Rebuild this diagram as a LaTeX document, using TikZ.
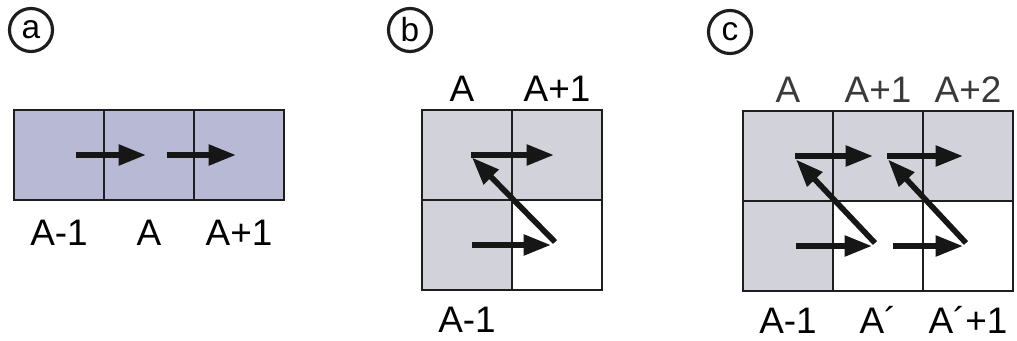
\documentclass[tikz,border=0pt]{standalone}
\usepackage{fontspec}
\setmainfont{Liberation Sans}
\usetikzlibrary{arrows.meta,positioning}

\begin{document}
\begin{tikzpicture}[
    cell/.style={draw=lineC, line width=1.5pt, minimum size=1.8cm,
                 inner sep=0pt, outer sep=0pt},
    lbl/.style={font=\fontsize{21}{24}\selectfont, inner sep=0pt,
                text height=0.54cm, text depth=0pt},
    tag/.style={circle, draw=lineC, line width=1.8pt, minimum size=0.86cm,
                inner sep=0pt, font=\fontsize{19}{24}\selectfont},
    flow/.style={draw=arrC, line width=3.2pt,
                 -{Triangle[length=0.55cm, width=0.4cm]}},
]

% Colors
\definecolor{fillA}{HTML}{B8B9D4}
\definecolor{fillB}{HTML}{D2D3DA}
\definecolor{lineC}{HTML}{1E1E1E}
\definecolor{arrC}{HTML}{161616}
\definecolor{lblC}{HTML}{3A3A3A}

\useasboundingbox (0,0) rectangle (20.34,6.8);

% === Panel a ===
\node[tag] (tagA) at (0.62,6.2) {a};
\node[cell, fill=fillA] (a1) at (1.18,3.7) {};
\node[cell, fill=fillA] (a2) at (2.98,3.7) {};
\node[cell, fill=fillA] (a3) at (4.78,3.7) {};

\node[lbl, below=0.37cm of a1] (la1) {A-1};
\node[lbl, below=0.37cm of a2] (la2) {A};
\node[lbl, below=0.37cm of a3] (la3) {A+1};

\draw[flow] ([xshift=0.33cm]a1.center) -- ([xshift=-0.06cm]a2.center);
\draw[flow] ([xshift=0.35cm]a2.center) -- ([xshift=-0.06cm]a3.center);

% === Panel b ===
\node[tag] (tagB) at (8.2,6.2) {b};
\node[cell, fill=fillB] (b11) at (9.34,3.7) {};
\node[cell, fill=fillB] (b12) at (11.14,3.7) {};
\node[cell, fill=fillB] (b21) at (9.34,1.9) {};
\node[cell, fill=white] (b22) at (11.14,1.9) {};

\node[lbl, above=0.17cm of b11, xshift=-0.1cm] (lb11) {A};
\node[lbl, above=0.17cm of b12] (lb12) {A+1};
\node[lbl, below=0.3cm of b21] (lb21) {A-1};

\draw[flow] ([xshift=0.1cm]b21.center) -- ([xshift=-0.12cm]b22.center);
\draw[flow] ([shift={(-0.04,0.06)}]b22.center) -- ([shift={(0.1,-0.05)}]b11.center);
\draw[flow] ([xshift=0.08cm]b11.center) -- ([xshift=-0.06cm]b12.center);

% === Panel c ===
\node[tag] (tagC) at (14.6,6.16) {c};
\node[cell, fill=fillB] (c11) at (15.76,3.68) {};
\node[cell, fill=fillB] (c12) at (17.56,3.68) {};
\node[cell, fill=fillB] (c13) at (19.36,3.68) {};
\node[cell, fill=fillB] (c21) at (15.76,1.88) {};
\node[cell, fill=white] (c22) at (17.56,1.88) {};
\node[cell, fill=white] (c23) at (19.36,1.88) {};

\node[lbl, lblC, above=0.17cm of c11] (lc11) {A};
\node[lbl, lblC, above=0.17cm of c12] (lc12) {A+1};
\node[lbl, lblC, above=0.17cm of c13] (lc13) {A+2};
\node[lbl, below=0.3cm of c21] (lc21) {A-1};
\node[lbl, below=0.3cm of c22] (lc22) {A´};
\node[lbl, below=0.3cm of c23] (lc23) {A´+1};

\draw[flow] ([xshift=0.16cm]c21.center) -- ([xshift=-0.12cm]c22.center);
\draw[flow] ([shift={(-0.06,0.06)}]c22.center) -- ([shift={(0.16,-0.07)}]c11.center);
\draw[flow] ([xshift=0.14cm]c11.center) -- ([xshift=-0.1cm]c12.center);

\draw[flow] ([xshift=0.3cm]c22.center) -- ([xshift=-0.1cm]c23.center);
\draw[flow] ([shift={(-0.04,0.06)}]c23.center) -- ([shift={(0.2,-0.07)}]c12.center);
\draw[flow] ([xshift=0.18cm]c12.center) -- ([xshift=-0.1cm]c13.center);
\end{tikzpicture}
\end{document}
